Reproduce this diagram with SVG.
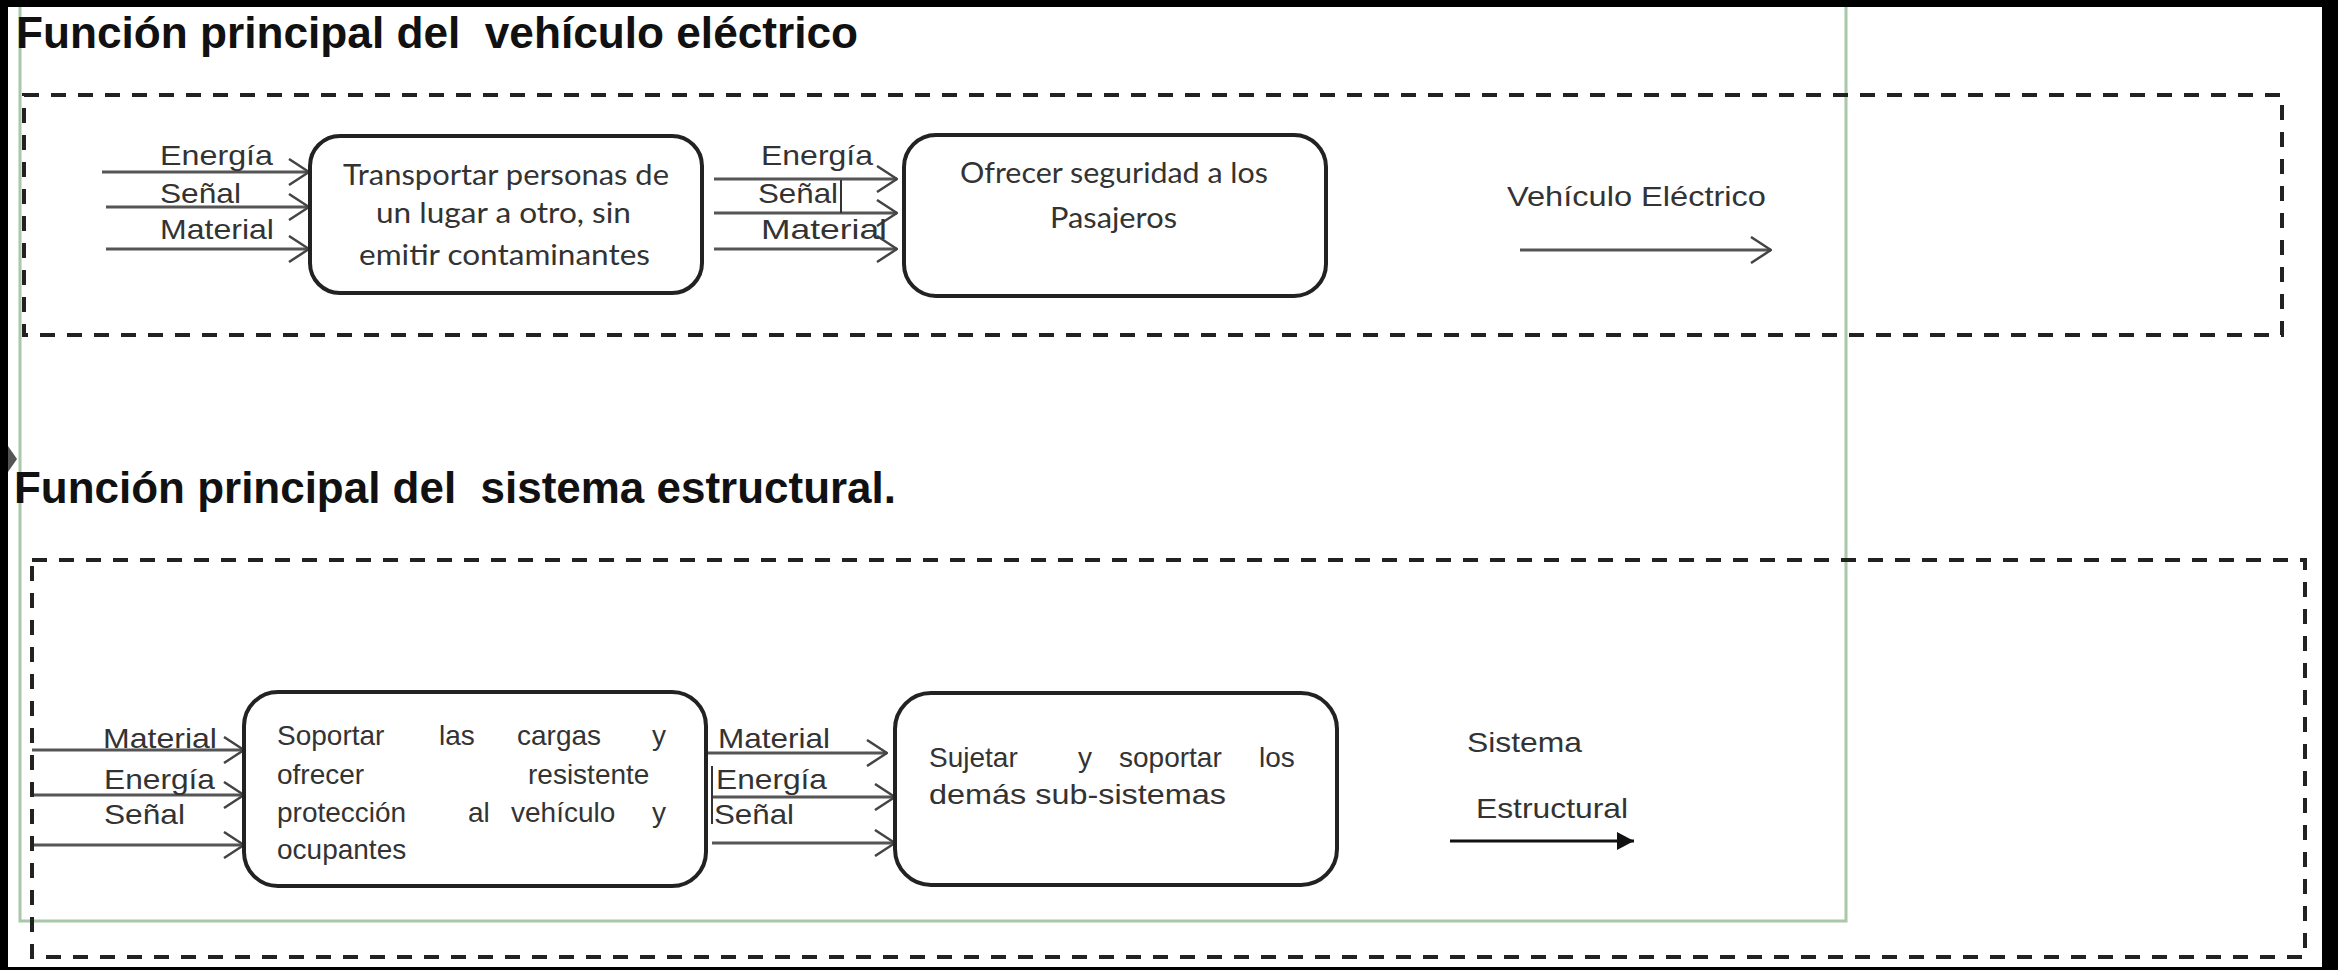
<svg xmlns="http://www.w3.org/2000/svg" width="2338" height="970" viewBox="0 0 2338 970">
<style>
.title{font-family:"Liberation Sans",Arial,sans-serif;font-weight:bold;font-size:44px;fill:#111}
.lbl{font-family:"Liberation Sans",Arial,sans-serif;font-size:28px;fill:#333}
.cal{font-family:Lato,"Open Sans",sans-serif;font-size:28px;fill:#333}
.box{fill:#fff;stroke:#222;stroke-width:4}
.dash{fill:none;stroke:#222;stroke-width:4;stroke-dasharray:15 12}
.flow{stroke:#555;stroke-width:3;fill:none}
.green{fill:none;stroke:#a8c8a8;stroke-width:3}
</style>
<defs>
<marker id="open" viewBox="0 0 22 28" refX="21" refY="14" markerWidth="22" markerHeight="28" markerUnits="userSpaceOnUse" orient="auto">
<path d="M1,1 L21,14 L1,27" fill="none" stroke="#444" stroke-width="2.5"/>
</marker>
<marker id="solid" viewBox="0 0 17 18" refX="17" refY="9" markerWidth="17" markerHeight="18" markerUnits="userSpaceOnUse" orient="auto">
<path d="M0,0 L17,9 L0,18 z" fill="#111"/>
</marker>
</defs>
<rect x="0" y="0" width="2338" height="970" fill="#000"/>
<rect x="8" y="7" width="2314" height="960" fill="#fff"/>
<polygon points="8,446 17,459 8,472" fill="#555"/>
<path class="green" d="M20,7 L20,921 L1846,921 L1846,7"/>

<text class="title" x="16" y="48" textLength="842" lengthAdjust="spacingAndGlyphs" xml:space="preserve">Función principal del  vehículo eléctrico</text>
<text class="title" x="14" y="503" textLength="882" lengthAdjust="spacingAndGlyphs" xml:space="preserve">Función principal del  sistema estructural.</text>

<rect class="dash" x="24" y="95" width="2258" height="240"/>
<rect class="dash" x="32" y="560" width="2273" height="397"/>

<g id="connectors">
<line class="flow" x1="102" y1="172" x2="309" y2="172" marker-end="url(#open)"/>
<line class="flow" x1="106" y1="207" x2="309" y2="207" marker-end="url(#open)"/>
<line class="flow" x1="106" y1="249" x2="309" y2="249" marker-end="url(#open)"/>
<line class="flow" x1="714" y1="179" x2="897" y2="179" marker-end="url(#open)"/>
<line class="flow" x1="714" y1="213" x2="897" y2="213" marker-end="url(#open)"/>
<line class="flow" x1="714" y1="249" x2="897" y2="249" marker-end="url(#open)"/>
<line x1="841" y1="180" x2="841" y2="213" stroke="#333" stroke-width="2"/>
<line class="flow" x1="1520" y1="250" x2="1771" y2="250" marker-end="url(#open)"/>

<line class="flow" x1="32" y1="750" x2="244" y2="750" marker-end="url(#open)"/>
<line class="flow" x1="34" y1="795" x2="244" y2="795" marker-end="url(#open)"/>
<line class="flow" x1="34" y1="845" x2="244" y2="845" marker-end="url(#open)"/>
<line class="flow" x1="706" y1="753" x2="887" y2="753" marker-end="url(#open)"/>
<line class="flow" x1="712" y1="797" x2="895" y2="797" marker-end="url(#open)"/>
<line class="flow" x1="712" y1="843" x2="895" y2="843" marker-end="url(#open)"/>
<line x1="712" y1="766" x2="712" y2="824" stroke="#333" stroke-width="2"/>
<line x1="1450" y1="841" x2="1634" y2="841" stroke="#111" stroke-width="3" marker-end="url(#solid)"/>
</g>

<g id="labels1">
<text class="lbl" x="160" y="165" textLength="113" lengthAdjust="spacingAndGlyphs">Energía</text>
<text class="lbl" x="160" y="203" textLength="81" lengthAdjust="spacingAndGlyphs">Señal</text>
<text class="lbl" x="160" y="239" textLength="114" lengthAdjust="spacingAndGlyphs">Material</text>
<text class="lbl" x="761" y="165" textLength="112" lengthAdjust="spacingAndGlyphs">Energía</text>
<text class="lbl" x="758" y="203" textLength="80" lengthAdjust="spacingAndGlyphs">Señal</text>
<text class="lbl" x="761" y="239" textLength="126" lengthAdjust="spacingAndGlyphs">Material</text>
<text class="lbl" x="1507" y="206" textLength="259" lengthAdjust="spacingAndGlyphs">Vehículo Eléctrico</text>
</g>

<g id="nodeA">
<rect class="box" x="310" y="136" width="392" height="157" rx="30"/>
<text class="cal" x="343" y="185" textLength="326" lengthAdjust="spacingAndGlyphs">Transportar personas de</text>
<text class="cal" x="376" y="223" textLength="255" lengthAdjust="spacingAndGlyphs">un lugar a otro, sin</text>
<text class="cal" x="359" y="265" textLength="291" lengthAdjust="spacingAndGlyphs">emitir contaminantes</text>
</g>

<g id="nodeB">
<rect class="box" x="904" y="135" width="422" height="161" rx="32"/>
<text class="cal" x="960" y="183" textLength="308" lengthAdjust="spacingAndGlyphs">Ofrecer seguridad a los</text>
<text class="cal" x="1050" y="228" textLength="127" lengthAdjust="spacingAndGlyphs">Pasajeros</text>
</g>

<g id="labels2">
<text class="lbl" x="103" y="748" textLength="114" lengthAdjust="spacingAndGlyphs">Material</text>
<text class="lbl" x="104" y="789" textLength="111" lengthAdjust="spacingAndGlyphs">Energía</text>
<text class="lbl" x="104" y="824" textLength="81" lengthAdjust="spacingAndGlyphs">Señal</text>
<text class="lbl" x="718" y="748" textLength="112" lengthAdjust="spacingAndGlyphs">Material</text>
<text class="lbl" x="716" y="789" textLength="111" lengthAdjust="spacingAndGlyphs">Energía</text>
<text class="lbl" x="714" y="824" textLength="80" lengthAdjust="spacingAndGlyphs">Señal</text>
<text class="lbl" x="1467" y="752" textLength="115" lengthAdjust="spacingAndGlyphs">Sistema</text>
<text class="lbl" x="1476" y="818" textLength="152" lengthAdjust="spacingAndGlyphs">Estructural</text>
</g>

<g id="nodeC">
<rect class="box" x="244" y="692" width="462" height="194" rx="34"/>
<text class="lbl" y="745"><tspan x="277">Soportar</tspan><tspan x="439">las</tspan><tspan x="517">cargas</tspan><tspan x="652">y</tspan></text>
<text class="lbl" y="784"><tspan x="277">ofrecer</tspan><tspan x="528">resistente</tspan></text>
<text class="lbl" y="822"><tspan x="277">protección</tspan><tspan x="468">al</tspan><tspan x="511">vehículo</tspan><tspan x="652">y</tspan></text>
<text class="lbl" x="277" y="859">ocupantes</text>
</g>

<g id="nodeD">
<rect class="box" x="895" y="693" width="442" height="192" rx="36"/>
<text class="lbl" y="767"><tspan x="929">Sujetar</tspan><tspan x="1078">y</tspan><tspan x="1119">soportar</tspan><tspan x="1259">los</tspan></text>
<text class="lbl" x="929" y="804" textLength="297" lengthAdjust="spacingAndGlyphs">demás sub-sistemas</text>
</g>
</svg>
